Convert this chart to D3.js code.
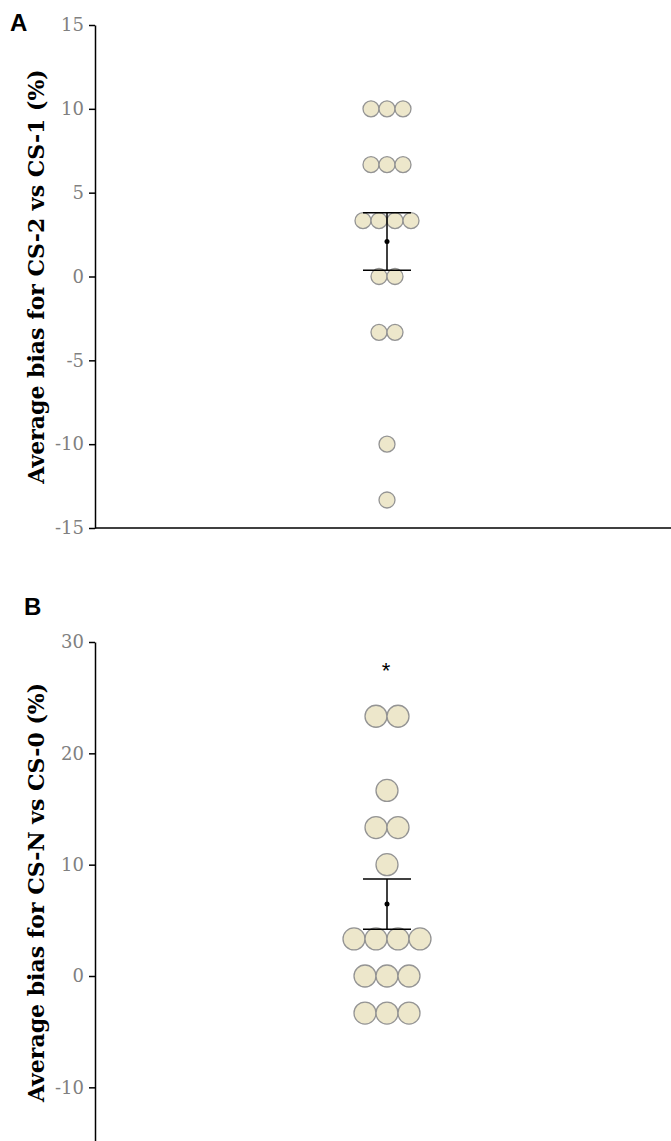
<html>
    <head>
        <meta charset="utf-8">
        <script src="https://d3js.org/d3.v7.min.js"></script>
        <style>
            body { margin: 0; background: white; }
            .axis text { font-family: "DejaVu Serif", serif; font-size: 18px; fill: #808080; }
            .axis path, .axis line { stroke: black; stroke-width: 1.5; }
            .ytitle { font-family: "DejaVu Serif", serif; font-weight: bold; font-size: 22px; fill: black; }
            .panel { font-family: "Liberation Sans", Arial, sans-serif; font-weight: bold; font-size: 24px; fill: black; }
        </style>
    </head>
    <body>
        <svg id="chart" width="671" height="1141"></svg>
        <script>
            // data (one value per participant)
            const biasA = [10, 10, 10, 6.67, 6.67, 6.67, 3.33, 3.33, 3.33, 3.33, 0, 0, -3.33, -3.33, -10, -13.33];
            const biasB = [23.33, 23.33, 16.67, 13.33, 13.33, 10, 3.33, 3.33, 3.33, 3.33, 0, 0, 0, -3.33, -3.33, -3.33];
            const ticksA = [-15, -10, -5, 0, 5, 10, 15];
            const ticksB = [-10, 0, 10, 20, 30];
            const titleA = "Average bias for CS-2 vs CS-1 (%)";
            const titleB = "Average bias for CS-N vs CS-0 (%)";
            const sigB = "*";

            const svg = d3.select("#chart");
            const axisX = 95;
            const centerX = 387;

            function drawPanel(opts) {
                const g = svg.append("g");
                const y = d3.scaleLinear().domain(opts.domain).range(opts.range);

                // y axis (plain hyphen for negatives, as in the original)
                g.append("g")
                    .attr("class", "axis")
                    .attr("transform", `translate(${axisX},0)`)
                    .call(d3.axisLeft(y).tickValues(opts.ticks).tickFormat(d => String(d))
                        .tickSize(6).tickSizeOuter(0).tickPadding(5));

                if (opts.xAxis) {
                    g.append("line")
                        .attr("x1", axisX).attr("x2", 671)
                        .attr("y1", y(opts.domain[0])).attr("y2", y(opts.domain[0]))
                        .attr("stroke", "black").attr("stroke-width", 1.5);
                }

                // axis title
                const mid = (y(opts.domain[0]) + y(opts.domain[1])) / 2;
                g.append("text")
                    .attr("class", "ytitle")
                    .attr("transform", `translate(44,${mid}) rotate(-90)`)
                    .attr("text-anchor", "middle")
                    .text(opts.title);

                // panel letter
                g.append("text")
                    .attr("class", "panel")
                    .attr("x", opts.letterPos[0]).attr("y", opts.letterPos[1])
                    .text(opts.letter);

                // dots: stack equal values side by side
                const groups = d3.groups(opts.values, d => d);
                const dots = [];
                groups.forEach(([v, arr]) => {
                    arr.forEach((d, i) => dots.push({value: v, offset: i - (arr.length - 1) / 2}));
                });
                const x = d3.scaleLinear().domain([-1, 1]).range([centerX - opts.spacing, centerX + opts.spacing]);

                g.selectAll("circle.dot").data(dots)
                    .join("circle")
                    .attr("class", "dot")
                    .attr("cx", d => x(d.offset))
                    .attr("cy", d => y(d.value))
                    .attr("r", opts.r)
                    .attr("fill", "#ede7cb")
                    .attr("stroke", "#949494")
                    .attr("stroke-width", 1.3);

                // mean +/- SEM
                const mean = d3.mean(opts.values);
                const sem = d3.deviation(opts.values) / Math.sqrt(opts.values.length);
                g.append("line")
                    .attr("x1", centerX).attr("x2", centerX)
                    .attr("y1", y(mean + sem)).attr("y2", y(mean - sem))
                    .attr("stroke", "black").attr("stroke-width", 1.5);
                [mean + sem, mean - sem].forEach(v => {
                    g.append("line")
                        .attr("x1", centerX - 24).attr("x2", centerX + 24)
                        .attr("y1", y(v)).attr("y2", y(v))
                        .attr("stroke", "black").attr("stroke-width", 1.5);
                });
                g.append("circle")
                    .attr("cx", centerX).attr("cy", y(mean)).attr("r", 2.5)
                    .attr("fill", "black");

                if (opts.sig) {
                    g.append("text")
                        .attr("x", centerX - 1).attr("y", y(opts.sigAt))
                        .attr("text-anchor", "middle")
                        .attr("font-family", "Liberation Sans, Arial, sans-serif")
                        .attr("font-size", 22)
                        .text(opts.sig);
                }
            }

            drawPanel({values: biasA, domain: [-15, 15], range: [528, 25], ticks: ticksA,
                title: titleA, letter: "A", letterPos: [10, 31], spacing: 16, r: 8, xAxis: true});
            drawPanel({values: biasB, domain: [-15, 30], range: [1143, 642], ticks: ticksB,
                title: titleB, letter: "B", letterPos: [24, 615], spacing: 22, r: 11, xAxis: false,
                sig: sigB, sigAt: 26.8});
        </script>
    </body>
</html>
